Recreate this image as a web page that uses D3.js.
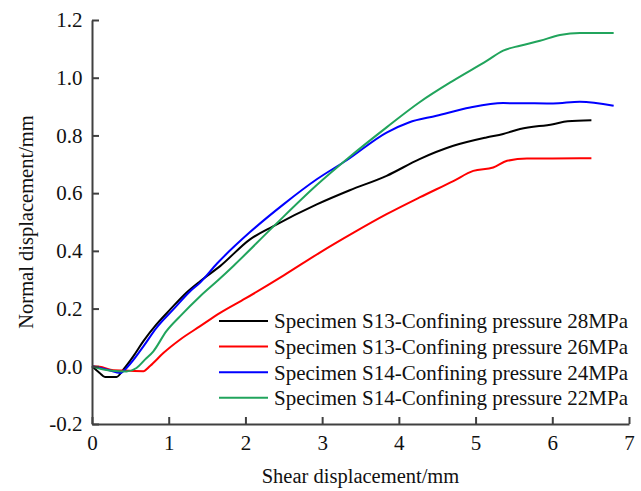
<!DOCTYPE html>
<html>
<head>
<meta charset="utf-8">
<script src="https://cdn.jsdelivr.net/npm/d3@7"></script>
<style>
  html, body { margin: 0; padding: 0; background: #fff; }
  svg { display: block; font-family: "Liberation Serif", "Times New Roman", serif; }
  .axis path, .axis line { stroke: #404040; stroke-width: 2; }
  .axis text { font-size: 21px; fill: #111; font-family: "Liberation Serif", serif; }
  .title { font-size: 20.5px; fill: #111; }
  .legend text { font-size: 21px; fill: #111; }
</style>
</head>
<body>
<svg id="chart" width="641" height="491"></svg>
<script>
// S13 - 28MPa
const s13p28X = [0, 0.10, 0.17, 0.32, 0.41, 0.54, 0.67, 0.84, 1.02, 1.23, 1.41, 1.67, 2.06, 2.36, 2.93, 3.36, 3.84, 4.27, 4.71, 5.14, 5.36, 5.58, 6.01, 6.2, 6.51];
const s13p28Y = [0, -0.023, -0.037, -0.037, -0.011, 0.035, 0.087, 0.145, 0.197, 0.255, 0.295, 0.347, 0.44, 0.485, 0.561, 0.61, 0.66, 0.718, 0.764, 0.793, 0.805, 0.822, 0.839, 0.849, 0.853];
// S13 - 26MPa
const s13p26X = [0, 0.1, 0.28, 0.41, 0.67, 0.76, 0.93, 1.15, 1.41, 1.67, 2.0, 2.5, 2.97, 3.41, 3.84, 4.27, 4.71, 4.97, 5.23, 5.41, 5.67, 6.0, 6.51];
const s13p26Y = [0, -0.002, -0.014, -0.015, -0.017, 0.002, 0.046, 0.093, 0.139, 0.185, 0.235, 0.315, 0.394, 0.463, 0.527, 0.585, 0.642, 0.677, 0.689, 0.712, 0.72, 0.72, 0.721];
// S14 - 24MPa
const s14p24X = [0, 0.2, 0.37, 0.47, 0.67, 0.84, 1.06, 1.28, 1.41, 1.63, 2.06, 2.5, 2.93, 3.32, 3.84, 4.13, 4.49, 4.93, 5.36, 6.01, 6.36, 6.8];
const s14p24Y = [0, -0.012, -0.023, 0, 0.069, 0.133, 0.197, 0.26, 0.29, 0.356, 0.465, 0.562, 0.648, 0.714, 0.81, 0.845, 0.868, 0.897, 0.912, 0.911, 0.917, 0.903];
// S14 - 22MPa
const s14p22X = [0, 0.23, 0.45, 0.58, 0.69, 0.80, 0.97, 1.15, 1.41, 1.65, 1.84, 2.36, 2.93, 3.36, 3.84, 4.27, 4.71, 5.15, 5.36, 5.58, 5.84, 6.1, 6.36, 6.8];
const s14p22Y = [0, -0.015, -0.018, -0.006, 0.023, 0.052, 0.122, 0.174, 0.243, 0.30, 0.347, 0.483, 0.628, 0.726, 0.828, 0.915, 0.99, 1.059, 1.094, 1.111, 1.128, 1.148, 1.155, 1.155];

const seriesNames = [
  'Specimen S13-Confining pressure 28MPa',
  'Specimen S13-Confining pressure 26MPa',
  'Specimen S14-Confining pressure 24MPa',
  'Specimen S14-Confining pressure 22MPa'
];
const seriesColors = ['#000000', '#ff0000', '#0000ff', '#21a45c'];
const xTicks = [0, 1, 2, 3, 4, 5, 6, 7];
const yTicks = [-0.2, 0, 0.2, 0.4, 0.6, 0.8, 1.0, 1.2];

const series = [
  [s13p28X, s13p28Y], [s13p26X, s13p26Y], [s14p24X, s14p24Y], [s14p22X, s14p22Y]
].map(([xs, ys], i) => ({
  name: seriesNames[i],
  color: seriesColors[i],
  points: xs.map((x, j) => ({ x, y: ys[j] }))
}));

const svg = d3.select('#chart');
const x = d3.scaleLinear().domain([0, 7]).range([92, 629]);
const y = d3.scaleLinear().domain([-0.2, 1.2]).range([424, 20]);

const line = d3.line()
  .x(d => x(d.x))
  .y(d => y(d.y))
  .curve(d3.curveMonotoneX);

svg.append('g')
  .selectAll('path')
  .data(series)
  .join('path')
  .attr('d', d => line(d.points))
  .attr('fill', 'none')
  .attr('stroke', d => d.color)
  .attr('stroke-width', 2)
  .attr('stroke-linejoin', 'round');

svg.append('g')
  .attr('class', 'axis')
  .attr('transform', 'translate(0,424)')
  .call(d3.axisBottom(x).tickValues(xTicks).tickFormat(d3.format('d'))
    .tickSizeInner(-7).tickSizeOuter(0).tickPadding(11));

// plain hyphen for negatives, like the original figure
const fmtY = v => d3.format('.1f')(v).replace('\u2212', '-');

svg.append('g')
  .attr('class', 'axis')
  .attr('transform', 'translate(92,0)')
  .call(d3.axisLeft(y).tickValues(yTicks).tickFormat(fmtY)
    .tickSizeInner(-7).tickSizeOuter(0).tickPadding(9.5));

svg.append('text')
  .attr('class', 'title')
  .attr('x', 360.5)
  .attr('y', 483)
  .attr('text-anchor', 'middle')
  .text('Shear displacement/mm');

svg.append('text')
  .attr('class', 'title')
  .attr('transform', 'translate(33,222) rotate(-90)')
  .attr('text-anchor', 'middle')
  .text('Normal displacement/mm');

const legend = svg.append('g').attr('class', 'legend');
const row = legend.selectAll('g')
  .data(series)
  .join('g')
  .attr('transform', (d, i) => `translate(0,${321 + i * 25.6})`);

row.append('line')
  .attr('x1', 219).attr('x2', 268)
  .attr('stroke', d => d.color)
  .attr('stroke-width', 2);

row.append('text')
  .attr('x', 274)
  .attr('dy', '0.35em')
  .text(d => d.name);
</script>
</body>
</html>
